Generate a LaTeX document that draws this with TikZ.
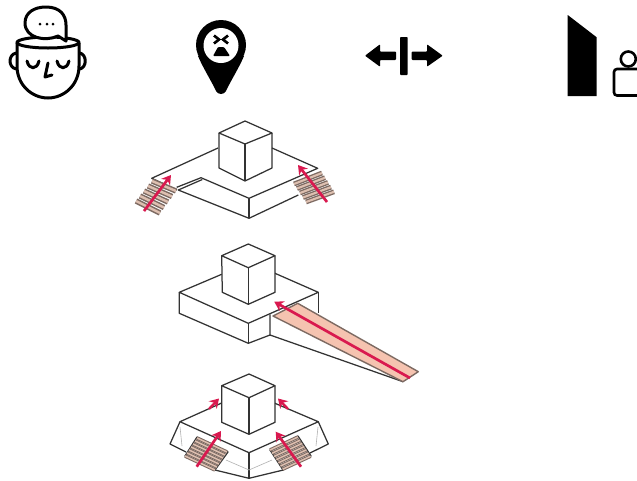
\documentclass[tikz,border=0pt]{standalone}
\usetikzlibrary{arrows.meta}
\definecolor{flow}{HTML}{D9194F}
\definecolor{rampfill}{HTML}{F5C3B0}
\definecolor{stepfill}{HTML}{DDBFB0}
\definecolor{stepedge}{HTML}{7D6A62}
\tikzset{
  iconline/.style={line width=3pt,line cap=round,line join=round},
  edge/.style={line width=1.25pt,draw=black!80,line join=round},
  thinedge/.style={line width=0.6pt,draw=black!30},
  flowarrow/.style={line width=2.7pt,draw=flow,-{Stealth[length=9pt,width=11pt]}},
  stepbar/.style={draw=stepedge},
  stepinner/.style={draw=stepfill},
}
\begin{document}
\begin{tikzpicture}[x=1pt,y=-1pt]
\useasboundingbox[clip] (0,0) rectangle (637,480);
\fill[white] (0,0) rectangle (637,480);

\draw[iconline] (48,42.5) ellipse[x radius=31,y radius=5.5];
\draw[iconline,fill=white] (58,36) .. controls (45,42) and (25,38) .. (25,23) .. controls (25,12) and (35,7) .. (46,7) .. controls (60,7) and (66,15) .. (66,25) -- (66,41) -- cycle;
\fill (40,24) circle[radius=1.5pt] (47,24) circle[radius=1.5pt] (53,24) circle[radius=1.5pt];
\draw[iconline] (17,43) -- (17,66) .. controls (17,85) and (32,98) .. (48,98) .. controls (64,98) and (79,85) .. (79,66) -- (79,43);
\draw[iconline] (16,53) .. controls (8,55) and (8,67) .. (16,69);
\draw[iconline] (80,53) .. controls (87,55) and (87,67) .. (80,69);
\draw[iconline] (27,61) .. controls (29,70) and (37,70) .. (39,61);
\draw[iconline] (57,61) .. controls (59,70) and (67,70) .. (69,61);
\draw[iconline] (48,63) -- (45,77) -- (52,75);

\fill (221,45) circle[radius=25pt];
\fill (198,56) .. controls (203,68) and (212,82) .. (216,91) .. controls (218,95) and (224,95) .. (226,91) .. controls (230,82) and (239,68) .. (244,56) -- cycle;
\fill[white] (221,45.5) circle[radius=17.5pt];
\draw[line width=2.6pt] (214,35.5) -- (219,39.5) -- (214,43.5);
\draw[line width=2.6pt] (228,35.5) -- (223,39.5) -- (228,43.5);
\fill[rounded corners=1pt] (213,56) -- (218,47) -- (224,47) -- (230,56) -- cycle;

\fill[rounded corners=0.8pt] (400,37) rectangle (407.7,75);
\fill[rounded corners=0.8pt] (365,55.7) -- (380,44.3) -- (380,51.7) -- (396,51.7) -- (396,60) -- (380,60) -- (380,66.7) -- cycle;
\fill[rounded corners=0.8pt] (442.7,55.7) -- (427,44.3) -- (427,51.7) -- (411.7,51.7) -- (411.7,60) -- (427,60) -- (427,66.7) -- cycle;

\fill (567.7,15) -- (596.7,37.3) -- (596.7,96) -- (567.7,96) -- cycle;
\draw[line width=2.6pt] (628.3,59) circle[radius=7.5pt];
\draw[line width=2.6pt,rounded corners=3pt] (614,95.5) -- (614,69) -- (645,69) -- (645,95.5) -- cycle;

\draw[edge] (245,121) -- (219,133) -- (245,144) -- (272,133) -- cycle;
\draw[edge] (219,133) -- (219,168) -- (245,181) -- (272,168) -- (272,133);
\draw[edge] (245,144) -- (245,181);
\draw[edge] (218,148) -- (151.7,178.3) -- (177,190);
\draw[edge] (272,148) -- (317.7,168.3) -- (249,198.3) -- (201,177.7) -- (176.7,187.3);
\draw[edge] (202.3,179.5) -- (178.3,190) -- (249,218.3) -- (298.3,195);
\draw[edge] (249,198.3) -- (249,218.3);
\foreach \i in {0,...,4}{
  \draw[stepbar,line width=5.4pt] ({152-4*\i},{181+5*\i}) -- ({176-4*\i},{191+5.5*\i});
  \draw[stepinner,line width=2.4pt] ({152-4*\i},{181+5*\i}) -- ({176-4*\i},{191+5.5*\i});
  \draw[stepbar,line width=4.8pt] ({294+3*\i},{184+4.5*\i}) -- ({322+3*\i},{173+4.7*\i});
  \draw[stepinner,line width=2.1pt] ({294+3*\i},{184+4.5*\i}) -- ({322+3*\i},{173+4.7*\i});
}
\draw[flowarrow] (144,211) -- (171,175);
\draw[flowarrow] (327,202) -- (298,165);

\draw[edge] (248.3,244) -- (221.7,255.7) -- (248.3,267.7) -- (275,255.7) -- cycle;
\draw[edge] (221.7,255.7) -- (222.3,292.3) -- (248.3,304.3) -- (275,292.3) -- (275,255.7);
\draw[edge] (248.3,267.7) -- (248.3,304.3);
\draw[edge] (221.7,274.3) -- (179.3,292.3) -- (248.3,323.3) -- (318.3,292.3) -- (275,273.3);
\draw[edge] (179.3,292.3) -- (179.3,313.3) -- (248.3,343.3) -- (270,335) -- (270,314.3);
\draw[edge] (248.3,323.3) -- (248.3,343.3);
\draw[edge] (318.3,292.3) -- (318.3,313.3);
\draw[edge] (270,335) -- (403,381.7);
\draw[line width=1.4pt,draw=stepedge,fill=rampfill,line join=round] (297.7,303.3) -- (418.3,371.7) -- (403,381.7) -- (273,316) -- cycle;
\draw[flowarrow] (410,378) -- (274.3,301.7);

\draw[edge] (249,374) -- (221.7,385.7) -- (249,397.7) -- (275,385.7) -- cycle;
\draw[edge] (221.7,385.7) -- (221.7,422.3) -- (249,434.3) -- (275,422.3) -- (275,385.7);
\draw[edge] (249,397.7) -- (249,434.3);
\draw[edge] (221,403.3) -- (180,421.7) -- (249,452.7) -- (318.3,421.7) -- (275,403.3);
\draw[edge] (249,452.7) -- (249,478.3);
\draw[edge] (180,421.7) -- (170,444) -- (186,452);
\draw[edge] (318.3,421.7) -- (328.3,444) -- (310,453);
\draw[edge] (215,470) -- (249,478.3) -- (283.3,470);
\draw[thinedge] (180,427) -- (182,446);
\draw[thinedge] (318,427) -- (316,446);
\draw[thinedge] (226,460) -- (249,470) -- (272,460);
\draw[edge,fill=white] (197,437) -- (185,456) -- (215,470) -- (228,452) -- cycle;
\draw[edge,fill=white] (298,436) -- (270,450) -- (283,470) -- (311,456) -- cycle;
\foreach \i in {0,...,6}{
  \draw[stepbar,line width=3.5pt] ({197-2*\i},{438+3*\i}) -- ({227-2*\i},{452+3*\i});
  \draw[stepinner,line width=1.5pt] ({197-2*\i},{438+3*\i}) -- ({227-2*\i},{452+3*\i});
  \draw[stepbar,line width=3.5pt] ({270+2.1*\i},{450+3.2*\i}) -- ({298+2.1*\i},{437+3.2*\i});
  \draw[stepinner,line width=1.5pt] ({270+2.1*\i},{450+3.2*\i}) -- ({298+2.1*\i},{437+3.2*\i});
}
\draw[flowarrow] (196.7,466.7) -- (221,431);
\draw[flowarrow] (301,466.7) -- (275.7,431.7);
\draw[flowarrow,line width=2.4pt] (209,409) -- (219,398.5);
\draw[flowarrow,line width=2.4pt] (288,409) -- (278,398.5);
\end{tikzpicture}
\end{document}
